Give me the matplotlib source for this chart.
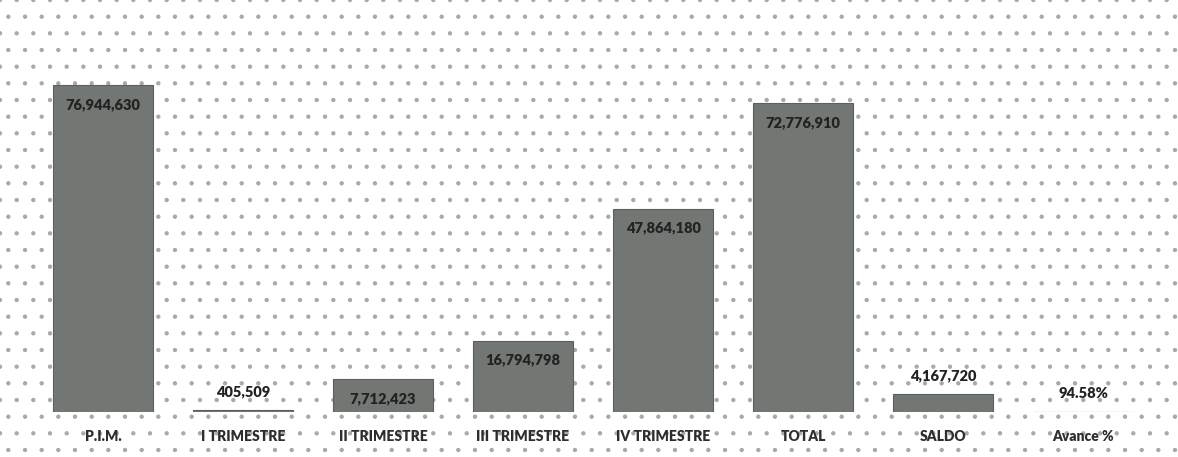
import numpy as np
import matplotlib
matplotlib.use("Agg")
import matplotlib.pyplot as plt
from matplotlib.patches import Rectangle


# Chart data.
categories = ["P.I.M.", "I TRIMESTRE", "II TRIMESTRE", "III TRIMESTRE",
              "IV TRIMESTRE", "TOTAL", "SALDO", "Avance %"]
values = [76944630, 405509, 7712423, 16794798, 47864180, 72776910, 4167720, 94.58]
valueLabels = ["76,944,630", "405,509", "7,712,423", "16,794,798",
               "47,864,180", "72,776,910", "4,167,720", "94.58%"]
labelInside = [True, False, True, True, True, True, False, False]


plt.rcParams['font.family'] = ['Lato', 'DejaVu Sans']
plt.rcParams['hatch.linewidth'] = 0.7

fig = plt.figure(figsize=(11.78, 4.57), dpi=100)

# Dotted paper background over the whole figure.
background = Rectangle((0, 0), 1, 1, transform=fig.transFigure, facecolor='white',
                       edgecolor='#a8a8a8', hatch='.', linewidth=0, zorder=-10)
fig.patches.append(background)

ax = fig.add_axes([33 / 1178, 45 / 457, 1120 / 1178, 407 / 457])
ax.patch.set_alpha(0)

x = np.arange(len(categories))
bars = ax.bar(x, values, width=0.71, color='#727773', edgecolor='#5c605d', linewidth=0.8)

ax.set_xlim(-0.5, len(categories) - 0.5)
ax.set_ylim(0, 95.8e6)

for i in range(len(categories)):
    if labelInside[i]:
        ax.annotate(valueLabels[i], (x[i], values[i]), xytext=(0, -14), textcoords='offset points',
                    ha='center', va='center', fontsize=10.5, fontweight='heavy', color='#222222')
    else:
        ax.annotate(valueLabels[i], (x[i], values[i]), xytext=(0, 13), textcoords='offset points',
                    ha='center', va='center', fontsize=10.5, fontweight='heavy', color='#222222')

ax.set_xticks(x)
ax.set_xticklabels(categories, fontsize=10, fontweight='heavy', color='#2e2e2e')
ax.tick_params(axis='x', length=0, pad=13)
ax.set_yticks([])
for side in ['top', 'right', 'left', 'bottom']:
    ax.spines[side].set_visible(False)

fig.savefig("out.png", dpi=100)
